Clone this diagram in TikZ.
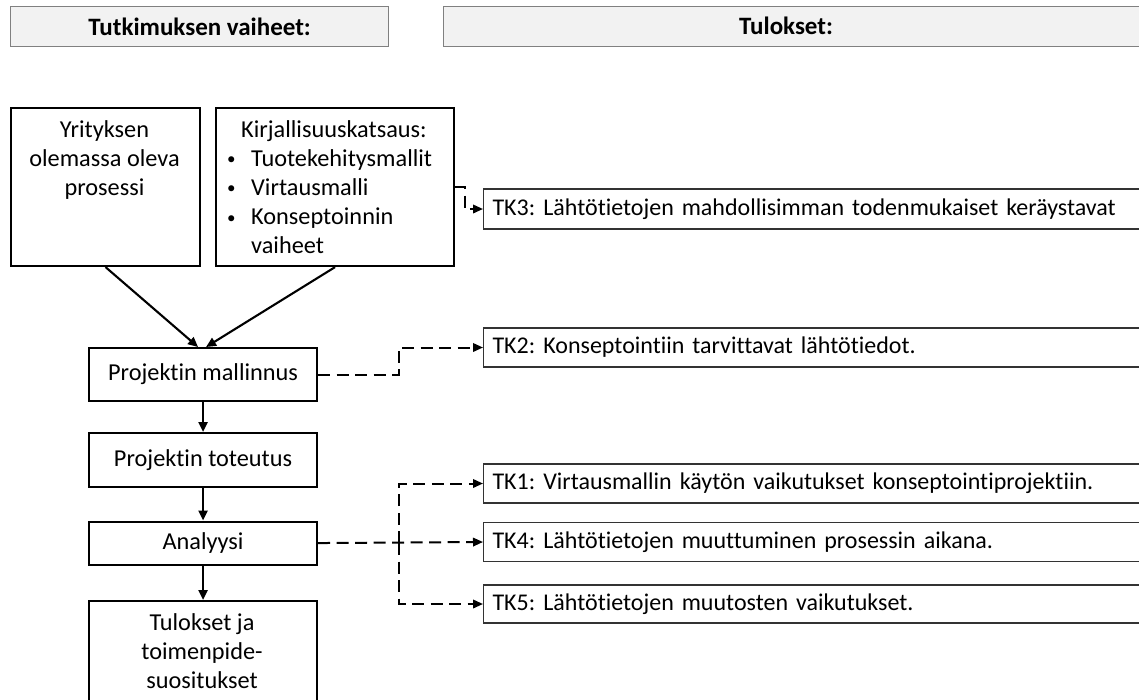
\documentclass[tikz,border=0pt]{standalone}
\usepackage{fontspec}
\setmainfont{Carlito}[Ligatures={NoCommon}]
\usetikzlibrary{arrows.meta,calc}
\frenchspacing
\newcommand{\bul}{\makebox[25pt][l]{\hspace{1pt}\raisebox{1.5pt}{\fontsize{17}{17}\selectfont•}}}
\begin{document}
\begin{tikzpicture}[x=1pt,y=-1pt,
  txt/.style={font=\fontsize{24.3}{29.2}\selectfont, inner sep=0pt},
  header/.style={draw=black!50, fill=black!5, line width=1.2pt, anchor=north west,
    minimum height=40pt, inner sep=0pt},
  htxt/.style={inner sep=0pt, font=\fontsize{25}{29.2}\selectfont\bfseries},
  stage/.style={draw=black, line width=2.1pt, anchor=north west, inner sep=0pt,
    font=\fontsize{24.3}{29.2}\selectfont},
  result/.style={draw=black!80, line width=1.1pt, anchor=west, inner xsep=9pt,
    inner ysep=0pt, text width=680pt, align=left,
    font=\fontsize{24}{29.2}\selectfont},
  flow/.style={line width=2.1pt, -{Triangle[length=10pt,width=9pt]}},
  link/.style={line width=2pt, dash pattern=on 12pt off 6.5pt,
    -{Triangle[length=10pt,width=8.5pt]}}]
\useasboundingbox (0,0) rectangle (1139,699);
\clip (0,0) rectangle (1139,699);

% column headers
\node[header, minimum width=378pt] (h1) at (10,6) {};
\node[htxt] (h1t) at (h1.center) {Tutkimuksen vaiheet:};
\node[header, minimum width=720pt] (h2) at (443,6) {};
\node[htxt] (h2t) at (786,26) {Tulokset:};

% research stages
\node[stage, minimum width=189pt, minimum height=158pt] (yr) at (10,107) {};
\node[txt, align=center, anchor=north] (yrt) at (104.5,120) {Yrityksen\\olemassa oleva\\prosessi};
\node[stage, minimum width=238pt, minimum height=158pt] (kir) at (215,107) {};
\node[txt, align=left, anchor=north west] (kirt) at (226,120)
  {\hspace*{15pt}Kirjallisuuskatsaus:\\
   \bul Tuotekehitysmallit\\
   \bul Virtausmalli\\
   \bul Konseptoinnin\\
   \hspace*{25pt}vaiheet};
\node[stage, minimum width=228pt, minimum height=53pt] (mall) at (88,347) {Projektin mallinnus};
\node[stage, minimum width=228pt, minimum height=54pt] (tot) at (88,432) {Projektin toteutus};
\node[stage, minimum width=228pt, minimum height=43pt] (an) at (88,520.5) {Analyysi};
\node[stage, minimum width=228pt, minimum height=130pt] (tul) at (88,600) {};
\node[txt, align=center, anchor=north] (tult) at (202,613) {Tulokset ja\\toimenpide-\\suositukset};

% results
\node[result, minimum height=40pt] (tk3) at (483,209) {TK3: Lähtötietojen mahdollisimman todenmukaiset keräystavat};
\node[result, minimum height=39pt] (tk2) at (483,347.5) {TK2: Konseptointiin tarvittavat lähtötiedot.};
\node[result, minimum height=39pt] (tk1) at (483,483.5) {TK1: Virtausmallin käytön vaikutukset konseptointiprojektiin.};
\node[result, minimum height=39pt] (tk4) at (483,542) {TK4: Lähtötietojen muuttuminen prosessin aikana.};
\node[result, minimum height=38pt] (tk5) at (483,604) {TK5: Lähtötietojen muutosten vaikutukset.};

% stage flow
\draw[flow] (yr.south) -- ($(mall.north)+(-5,0)$);
\draw[flow] (kir.south) -- ($(mall.north)+(3,0)$);
\draw[flow] (mall) -- (tot);
\draw[flow] (tot) -- (an);
\draw[flow] (an) -- (tul);

% links to results
\coordinate (jx) at (399,0);
\coordinate (jk) at (465,0);
\draw[link] (kir.east) -- (kir.east -| jk) |- (tk3.west);
\draw[link] (mall.east) -- (mall.east -| jx) |- (tk2.west);
\draw[link] (an.east) -- (tk4.west);
\draw[link] (an.east -| jx) |- (tk1.west);
\draw[link] (an.east -| jx) |- (tk5.west);
\end{tikzpicture}
\end{document}
